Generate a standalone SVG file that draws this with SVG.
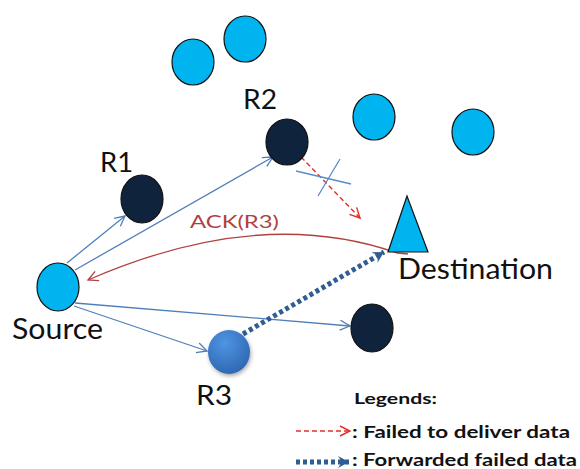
<svg xmlns="http://www.w3.org/2000/svg" width="580" height="469" viewBox="0 0 580 469">
  <style>
    .lbl { font-family: Lato, "Liberation Sans", Arial, sans-serif; fill: #111; }
    .node-light { fill: #00b4f0; stroke: #111; stroke-width: 1.2; }
    .node-dark { fill: #10233d; stroke: #111; stroke-width: 1.2; }
    .link { stroke: #4f7fb8; stroke-width: 1.3; fill: none; }
    .fail { stroke: #e03028; stroke-width: 1.4; stroke-dasharray: 5 3; fill: none; }
    .fwd { stroke: #2f5d94; stroke-width: 5; stroke-dasharray: 4 3; fill: none; }
    .ack { stroke: #b0413e; stroke-width: 1.3; fill: none; }
    .cross { stroke: #5a8ad0; stroke-width: 1.3; }
  </style>
  <defs>
    <marker id="arrowBlue" markerUnits="userSpaceOnUse" markerWidth="14" markerHeight="14" refX="11" refY="6" orient="auto">
      <path d="M1,1 L11,6 L1,11" fill="none" stroke="#4f7fb8" stroke-width="1.3"/>
    </marker>
    <marker id="arrowRed" markerUnits="userSpaceOnUse" markerWidth="14" markerHeight="14" refX="11" refY="6" orient="auto">
      <path d="M1,1 L11,6 L1,11" fill="none" stroke="#e03028" stroke-width="1.4"/>
    </marker>
    <marker id="arrowAck" markerUnits="userSpaceOnUse" markerWidth="14" markerHeight="14" refX="11" refY="6" orient="auto">
      <path d="M1,1 L11,6 L1,11" fill="none" stroke="#b0413e" stroke-width="1.3"/>
    </marker>
    <marker id="arrowFwd" markerUnits="userSpaceOnUse" markerWidth="18" markerHeight="18" refX="13" refY="8" orient="auto">
      <path d="M2,2 L13,8 L2,14 L6,8 Z" fill="#2f5d94"/>
    </marker>
    <radialGradient id="r3fill" cx="0.4" cy="0.3" r="0.8">
      <stop offset="0" stop-color="#4f95e3"/>
      <stop offset="1" stop-color="#2a62ad"/>
    </radialGradient>
    <filter id="shadow" x="-30%" y="-30%" width="160%" height="160%">
      <feGaussianBlur in="SourceAlpha" stdDeviation="2"/>
      <feOffset dx="1" dy="2" result="b"/>
      <feComponentTransfer><feFuncA type="linear" slope="0.35"/></feComponentTransfer>
      <feMerge><feMergeNode/><feMergeNode in="SourceGraphic"/></feMerge>
    </filter>
  </defs>

  <!-- idle neighbour nodes -->
  <g id="n-top1"><ellipse class="node-light" cx="193" cy="62" rx="21" ry="23"/></g>
  <g id="n-top2"><ellipse class="node-light" cx="245" cy="39" rx="21" ry="23"/></g>
  <g id="n-top3"><ellipse class="node-light" cx="374" cy="117" rx="21" ry="23"/></g>
  <g id="n-top4"><ellipse class="node-light" cx="473" cy="132" rx="21" ry="23"/></g>

  <!-- connectors -->
  <g id="connectors">
    <line class="link" x1="67" y1="263" x2="125" y2="216" marker-end="url(#arrowBlue)"/>
    <line class="link" x1="75" y1="270" x2="273" y2="157" marker-end="url(#arrowBlue)"/>
    <line class="link" x1="75" y1="303" x2="350" y2="326" marker-end="url(#arrowBlue)"/>
    <line class="link" x1="74" y1="306" x2="207" y2="351" marker-end="url(#arrowBlue)"/>
    <line class="fail" x1="301" y1="157" x2="360" y2="218" marker-end="url(#arrowRed)"/>
    <line class="cross" x1="296" y1="171" x2="351" y2="184"/>
    <line class="cross" x1="318" y1="196" x2="340" y2="159"/>
    <path class="ack" d="M408,254 L397,253 Q260,205 88,280" marker-end="url(#arrowAck)"/>
    <line class="fwd" x1="243" y1="334" x2="384" y2="252" marker-end="url(#arrowFwd)"/>
  </g>

  <!-- labelled nodes -->
  <g id="source">
    <ellipse class="node-light" cx="58" cy="287" rx="21" ry="24"/>
    <text class="lbl" x="12" y="339" font-size="28" textLength="91" lengthAdjust="spacingAndGlyphs">Source</text>
  </g>
  <g id="r1">
    <ellipse class="node-dark" cx="142" cy="199" rx="21" ry="24"/>
    <text class="lbl" x="100" y="172" font-size="27" textLength="33" lengthAdjust="spacingAndGlyphs">R1</text>
  </g>
  <g id="r2">
    <ellipse class="node-dark" cx="287" cy="142" rx="21" ry="23"/>
    <text class="lbl" x="243" y="109" font-size="27" textLength="34" lengthAdjust="spacingAndGlyphs">R2</text>
  </g>
  <g id="r3">
    <ellipse cx="229" cy="352" rx="21" ry="22" fill="url(#r3fill)" filter="url(#shadow)"/>
    <text class="lbl" x="196" y="405" font-size="27" textLength="36" lengthAdjust="spacingAndGlyphs">R3</text>
  </g>
  <g id="n-bottom">
    <ellipse class="node-dark" cx="372" cy="328" rx="21" ry="24"/>
  </g>
  <g id="destination">
    <polygon points="407,196 388,252 428,252" fill="#00b4f0" stroke="#111" stroke-width="1.2"/>
    <text class="lbl" x="398" y="279" font-size="29" textLength="155" lengthAdjust="spacingAndGlyphs">Destination</text>
  </g>

  <text x="190" y="228" font-family="Lato, Liberation Sans, Arial, sans-serif" font-size="17" fill="#b0413e" textLength="89" lengthAdjust="spacingAndGlyphs">ACK(R3)</text>

  <!-- legend -->
  <g id="legend">
    <text class="lbl" x="354" y="404" font-size="16" font-weight="bold" textLength="83" lengthAdjust="spacingAndGlyphs">Legends:</text>
    <line class="fail" x1="296" y1="431" x2="350" y2="431" marker-end="url(#arrowRed)"/>
    <text class="lbl" x="352" y="438" font-size="17" font-weight="bold" textLength="218" lengthAdjust="spacingAndGlyphs">: Failed to deliver data</text>
    <line class="fwd" x1="296" y1="462" x2="349" y2="462" marker-end="url(#arrowFwd)"/>
    <text class="lbl" x="352" y="466" font-size="16.5" font-weight="bold" textLength="225" lengthAdjust="spacingAndGlyphs">: Forwarded failed data</text>
  </g>
</svg>
